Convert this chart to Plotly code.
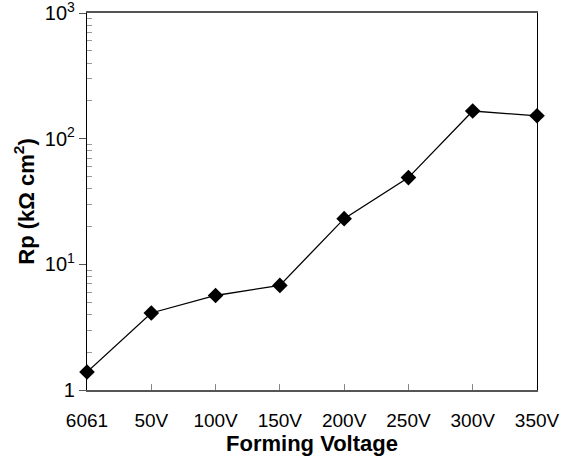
import plotly.graph_objects as go

categories = ["6061", "50V", "100V", "150V", "200V", "250V", "300V", "350V"]
rp_values = [1.39, 4.1, 5.65, 6.8, 23.1, 49.0, 166.0, 152.0]
y_tick_vals = [1, 10, 100, 1000]
y_tick_text = ["1", "10<sup>1</sup>", "10<sup>2</sup>", "10<sup>3</sup>"]
minor_vals = [m * d for d in (1, 10, 100) for m in range(2, 10)]

fig = go.Figure()
fig.add_trace(go.Scatter(
    x=list(range(len(categories))), y=rp_values, mode="lines+markers",
    line=dict(color="black", width=1.3),
    marker=dict(symbol="diamond", size=12, color="black"),
    cliponaxis=False, showlegend=False,
))

font = "Liberation Sans, Arial, sans-serif"
fig.update_layout(
    width=573, height=461,
    margin=dict(l=87, r=36, t=13, b=71),
    paper_bgcolor="white", plot_bgcolor="white",
    font=dict(family=font, color="black", size=18),
    xaxis=dict(
        range=[0, 7], tickmode="array", tickvals=list(range(len(categories))),
        ticktext=categories, ticks="inside", ticklen=6, tickcolor="#888",
        showgrid=False, zeroline=False, showline=True, linecolor="#555",
        linewidth=1.5, mirror=True, tickfont=dict(size=19),
        ticklabelstandoff=12, ticklabeloverflow="allow", automargin=False,
        title=dict(text="<b>Forming Voltage</b>", font=dict(size=22), standoff=0),
    ),
    yaxis=dict(
        type="log", range=[0, 3], tickmode="array", tickvals=y_tick_vals,
        ticktext=y_tick_text, ticks="outside", ticklen=7, tickcolor="#555",
        showgrid=False, zeroline=False, showline=True, linecolor="black",
        linewidth=1.3, mirror=True, tickfont=dict(size=20),
        ticklabeloverflow="allow", automargin=False,
        minor=dict(tickmode="array", tickvals=minor_vals, ticks="inside",
                   ticklen=5, tickcolor="#999", showgrid=False),
        title=dict(text="<b>Rp (kΩ cm<sup>2</sup>)</b>", font=dict(size=22), standoff=4),
    ),
)
fig.write_html("out.html")
